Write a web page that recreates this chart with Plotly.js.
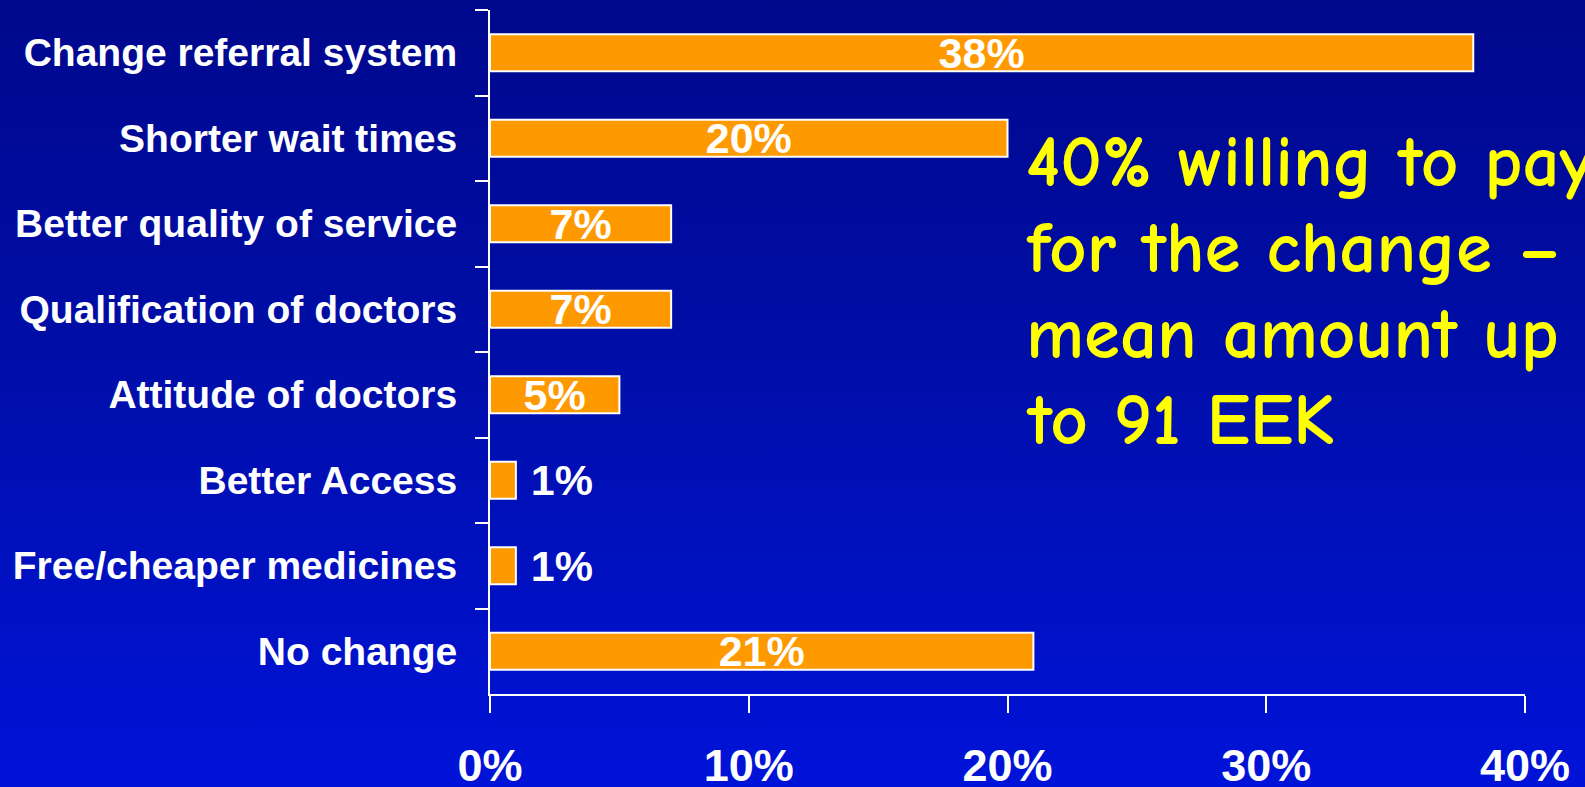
<!DOCTYPE html>
<html>
<head>
<meta charset="utf-8">
<script src="https://cdn.plot.ly/plotly-3.0.1.min.js"></script>
<style>
  html, body { margin: 0; padding: 0; }
  #chart {
    width: 1585px; height: 787px;
    background: linear-gradient(to bottom, #00088c 0%, #000ea8 45%, #0013d8 100%);
  }
</style>
</head>
<body>
<div id="chart"></div>
<script>
const categories = [
  "Change referral system",
  "Shorter wait times",
  "Better quality of service",
  "Qualification of doctors",
  "Attitude of doctors",
  "Better Access",
  "Free/cheaper medicines",
  "No change"
];
const values = [38, 20, 7, 7, 5, 1, 1, 21];
const labelPositions = ["inside", "inside", "inside", "inside", "inside", "outside", "outside", "inside"];
const xTickValues = [0, 10, 20, 30, 40];
const xTickLabels = ["0%", "10%", "20%", "30%", "40%"];
const noteLines = ["40% willing to pay", "for the change –", "mean amount up", "to 91 EEK"];

const barText = values.map((v, i) => (labelPositions[i] === "outside" ? "\u00A0" : "") + v + "%");

const trace = {
  type: "bar",
  orientation: "h",
  y: categories,
  x: values,
  text: barText,
  textposition: labelPositions,
  insidetextanchor: "middle",
  constraintext: "none",
  textangle: 0,
  cliponaxis: false,
  marker: { color: "#ff9900", line: { color: "#ffffff", width: 2 } },
  textfont: { family: "'Liberation Sans', Arial, sans-serif", size: 43, color: "#ffffff", weight: "bold" },
  hoverinfo: "skip"
};

const plotTop = 10, plotH = 684, plotLeft = 490, plotW = 1035;
const annotations = noteLines.map((line, i) => ({
  xref: "paper", yref: "paper",
  x: (1024 - plotLeft) / plotW,
  y: 1 - (206 + i * 86 - plotTop) / plotH,
  xanchor: "left", yanchor: "bottom", align: "left",
  showarrow: false,
  text: line,
  font: { family: "'Comic Sans MS', 'Comic Neue', 'Open Sans', sans-serif", size: 73, color: "#ffff00", weight: "bold" }
}));

const layout = {
  width: 1585, height: 787,
  paper_bgcolor: "rgba(0,0,0,0)",
  plot_bgcolor: "rgba(0,0,0,0)",
  margin: { l: 490, r: 60, t: 10, b: 93 },
  bargap: 0.567,
  showlegend: false,
  xaxis: {
    range: [0, 40],
    tickvals: xTickValues,
    ticktext: xTickLabels,
    showgrid: false, zeroline: false,
    showline: true, linecolor: "#ffffff", linewidth: 2,
    ticks: "outside", ticklen: 17, tickwidth: 2, tickcolor: "#ffffff",
    ticklabelstandoff: 14,
    tickfont: { family: "'Liberation Sans', Arial, sans-serif", size: 45, color: "#ffffff", weight: "bold" },
    fixedrange: true
  },
  yaxis: {
    type: "category",
    categoryorder: "array",
    categoryarray: categories,
    autorange: "reversed",
    showgrid: false, zeroline: false,
    showline: true, linecolor: "#ffffff", linewidth: 2,
    ticks: "outside", ticklen: 13, tickwidth: 2, tickcolor: "#ffffff",
    tickson: "boundaries",
    ticklabelstandoff: 23,
    tickfont: { family: "'Liberation Sans', Arial, sans-serif", size: 39, color: "#ffffff", weight: "bold" },
    fixedrange: true
  },
  annotations: annotations
};

Plotly.newPlot("chart", [trace], layout, { displayModeBar: false, staticPlot: true });
</script>
</body>
</html>
